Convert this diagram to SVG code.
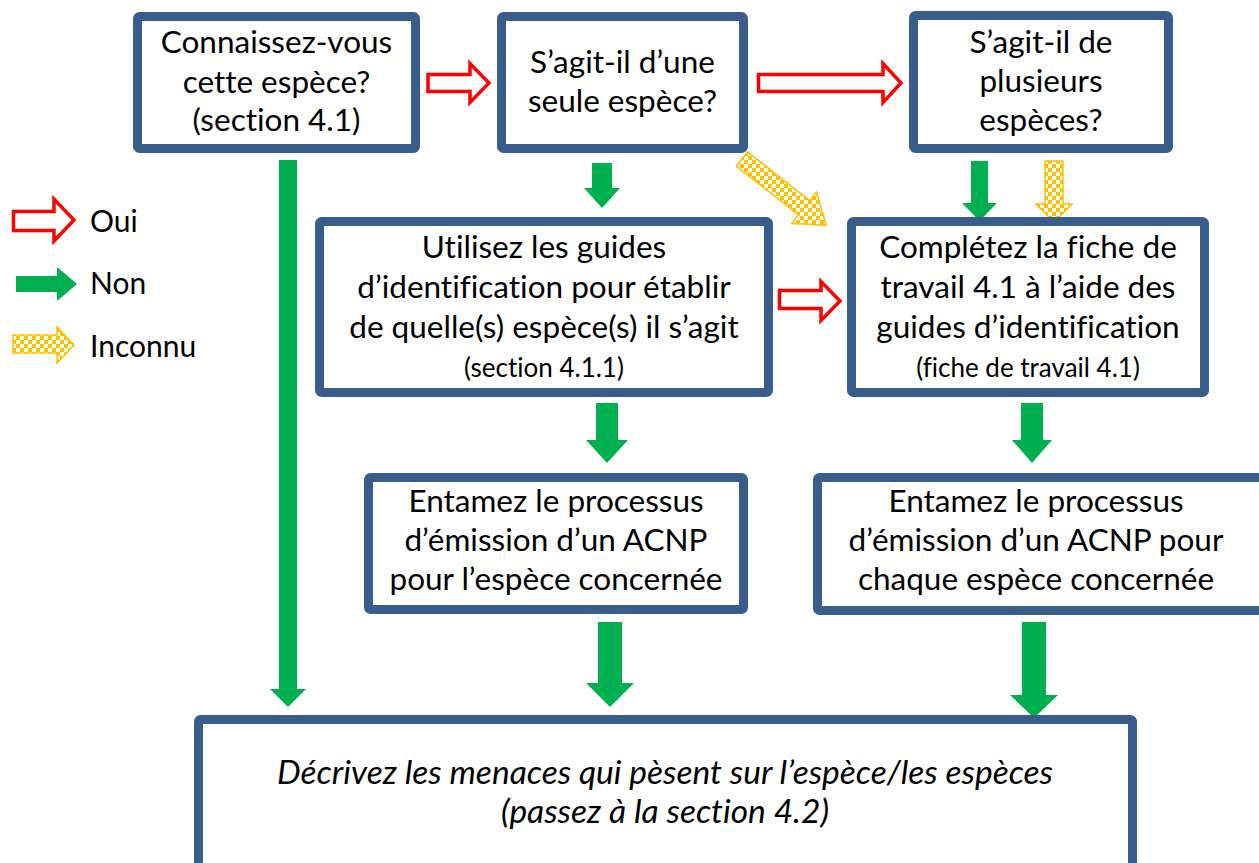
<svg xmlns="http://www.w3.org/2000/svg" width="1259" height="863" viewBox="0 0 1259 863">
  <defs>
    <!-- yellow/white checkerboard fill for the "Inconnu" arrows -->
    <pattern id="checker" patternUnits="userSpaceOnUse" width="8" height="8">
      <rect width="8" height="8" fill="#ffffff"/>
      <rect width="4" height="4" fill="#ffc000"/>
      <rect x="4" y="4" width="4" height="4" fill="#ffc000"/>
    </pattern>
  </defs>
  <style>
    .box { fill: #ffffff; stroke: #385d8a; stroke-width: 9; }
    .t { font-family: Lato, "Liberation Sans", sans-serif; font-size: 31.5px; fill: #000000; text-anchor: middle; font-variant-ligatures: none; }
    .s { font-size: 26px; }
    .i { font-style: italic; font-size: 33.5px; }
    .lg { font-family: Lato, "Liberation Sans", sans-serif; font-size: 30px; fill: #000000; }
    .yes { fill: #ffffff; stroke: #ff0000; stroke-width: 3.5; stroke-linejoin: miter; }
    .no { fill: #00b050; }
    .unk { fill: url(#checker); stroke: #ffc000; stroke-width: 1.5; }
  </style>
  <rect width="1259" height="863" fill="#ffffff"/>

  <!-- legend -->
  <g id="legend">
    <polygon class="yes" points="13.5,211.5 54,211.5 54,199 74,220 54,241 54,230.5 13.5,230.5"/>
    <text class="lg" x="90" y="232">Oui</text>
    <polygon class="no" points="16,276 57,276 57,267 77,284 57,301 57,292 16,292"/>
    <text class="lg" x="90" y="294">Non</text>
    <polygon class="unk" points="13,335 57,335 57,327 74,345 57,363 57,353 13,353"/>
    <text class="lg" x="90" y="357">Inconnu</text>
  </g>

  <!-- connectors -->
  <g id="connectors">
    <!-- Oui -->
    <polygon class="yes" points="428,74.5 470,74.5 470,63.5 489,83 470,102.5 470,91.5 428,91.5"/>
    <polygon class="yes" points="758.5,74.5 883,74.5 883,63.5 901,83 883,102.5 883,91.5 758.5,91.5"/>
    <polygon class="yes" points="779.5,290.5 821,290.5 821,281.5 840,301 821,320.5 821,308.5 779.5,308.5"/>
    <!-- Non -->
    <polygon class="no" points="279,160 297,160 297,689 306,689 288,707 270,689 279,689"/>
    <polygon class="no" points="592,163 612,163 612,188 620,188 602,208 584,188 592,188"/>
    <polygon class="no" points="971,161 988,161 988,203 997,203 979.5,221 962,203 971,203"/>
    <polygon class="no" points="596,403 618,403 618,440 628,440 607,463 586,440 596,440"/>
    <polygon class="no" points="1021,403 1043,403 1043,440 1052,440 1032,463 1012,440 1021,440"/>
    <polygon class="no" points="598,622 622,622 622,683 634,683 610,707 586,683 598,683"/>
    <polygon class="no" points="1022,622 1046,622 1046,695 1058,695 1034,718 1010,695 1022,695"/>
    <!-- Inconnu -->
    <polygon class="unk" points="747.6,151.9 809.7,200.7 816.5,192.1 826.1,225.1 791.7,223.5 798.5,214.9 736.4,166.1"/>
    <polygon class="unk" points="1045,161 1063,161 1063,204 1072,204 1054,222 1036,204 1045,204"/>
  </g>

  <g id="n1">
    <rect class="box" x="137.5" y="16.5" width="278" height="132" rx="2"/>
    <text class="t" x="276.5" y="53">Connaissez-vous</text>
    <text class="t" x="276.5" y="93">cette espèce?</text>
    <text class="t" x="276.5" y="131">(section 4.1)</text>
  </g>
  <g id="n2">
    <rect class="box" x="501.5" y="16.5" width="242" height="132" rx="2"/>
    <text class="t" x="622.5" y="73">S’agit-il d’une</text>
    <text class="t" x="622.5" y="112">seule espèce?</text>
  </g>
  <g id="n3">
    <rect class="box" x="913.5" y="15.5" width="255" height="133" rx="2"/>
    <text class="t" x="1041" y="53">S’agit-il de</text>
    <text class="t" x="1041" y="92">plusieurs</text>
    <text class="t" x="1041" y="131">espèces?</text>
  </g>
  <g id="n4">
    <rect class="box" x="319.5" y="221.5" width="449" height="171" rx="2"/>
    <text class="t" x="544" y="258">Utilisez les guides</text>
    <text class="t" x="544" y="298">d’identification pour établir</text>
    <text class="t" x="544" y="338">de quelle(s) espèce(s) il s’agit</text>
    <text class="t s" x="544" y="377">(section 4.1.1)</text>
  </g>
  <g id="n5">
    <rect class="box" x="851.5" y="221.5" width="353" height="171" rx="2"/>
    <text class="t" x="1028" y="258">Complétez la fiche de</text>
    <text class="t" x="1028" y="298">travail 4.1 à l’aide des</text>
    <text class="t" x="1028" y="338">guides d’identification</text>
    <text class="t s" x="1028" y="377">(fiche de travail 4.1)</text>
  </g>
  <g id="n6">
    <rect class="box" x="368.5" y="477.5" width="375" height="132" rx="2"/>
    <text class="t" x="556" y="512">Entamez le processus</text>
    <text class="t" x="556" y="551">d’émission d’un ACNP</text>
    <text class="t" x="556" y="590">pour l’espèce concernée</text>
  </g>
  <g id="n7">
    <rect class="box" x="817.5" y="477.5" width="450" height="133" rx="2"/>
    <text class="t" x="1036" y="512">Entamez le processus</text>
    <text class="t" x="1036" y="551">d’émission d’un ACNP pour</text>
    <text class="t" x="1036" y="590">chaque espèce concernée</text>
  </g>
  <g id="n8">
    <rect class="box" x="198.5" y="719.5" width="934" height="152" rx="2"/>
    <text class="t i" x="665" y="784">Décrivez les menaces qui pèsent sur l’espèce/les espèces</text>
    <text class="t i" x="665" y="823">(passez à la section 4.2)</text>
  </g>
</svg>
